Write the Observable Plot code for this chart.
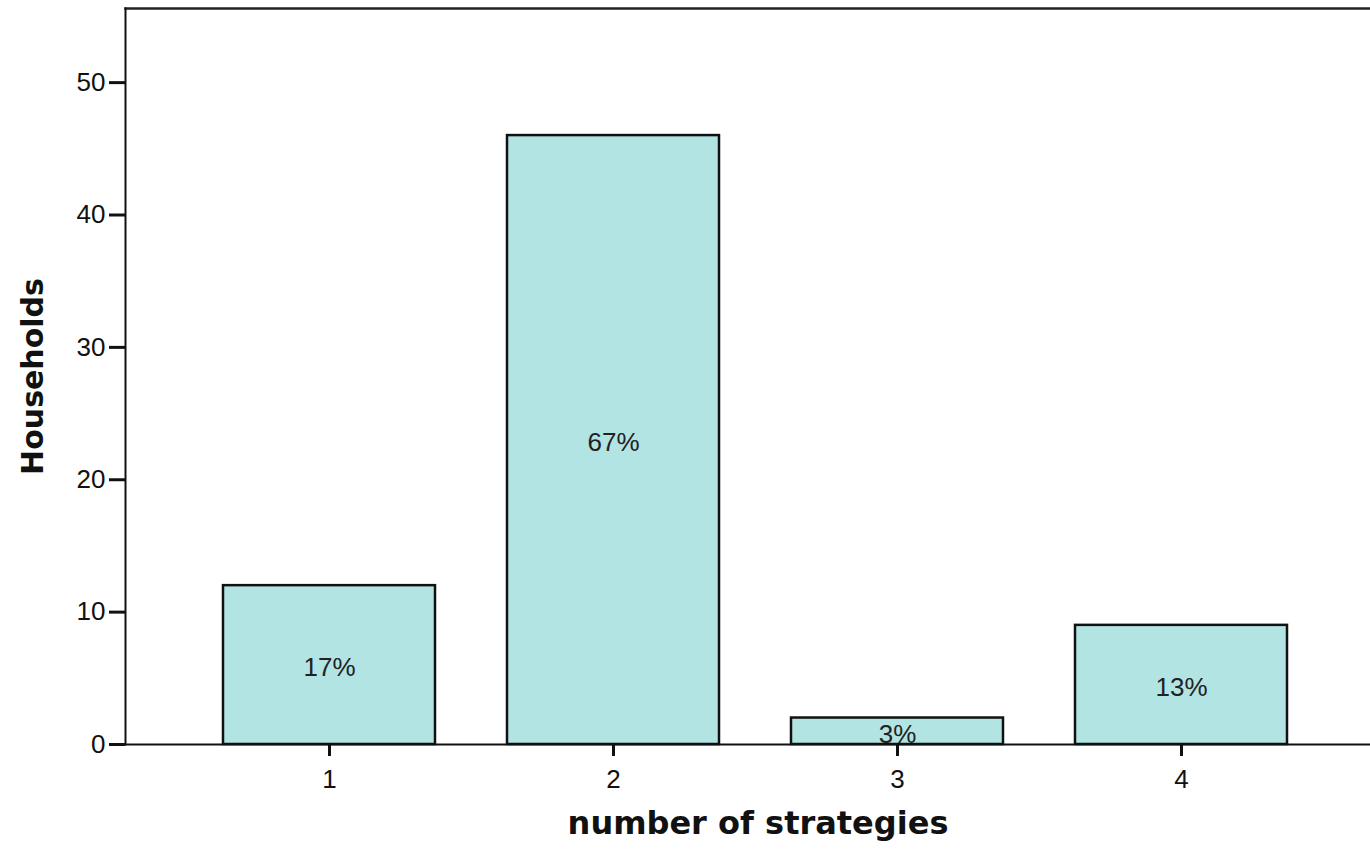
<!DOCTYPE html>
<html>
<head>
<meta charset="utf-8">
<script src="https://cdn.jsdelivr.net/npm/d3@7"></script>
<script src="https://cdn.jsdelivr.net/npm/@observablehq/plot@0.6"></script>
<style>
  html, body { margin: 0; padding: 0; background: #fff; overflow: hidden; }
  #chart { width: 1370px; height: 856px; overflow: hidden; }
  #chart svg { max-width: none !important; width: 1390px !important; height: 856px !important; }
</style>
</head>
<body>
<div id="chart"></div>
<script>
const categories = ["1", "2", "3", "4"];
const households = [12, 46, 2, 9];
const percentLabels = ["17%", "67%", "3%", "13%"];
const yTicks = [0, 10, 20, 30, 40, 50];
const xTitle = "number of strategies";
const yTitle = "Households";

const data = categories.map((c, i) => ({category: c, households: households[i], label: percentLabels[i]}));

const chart = Plot.plot({
  width: 1390,
  height: 856,
  marginLeft: 125,
  marginRight: 0,
  marginTop: 8,
  marginBottom: 112,
  style: {fontFamily: "'Liberation Sans', Arial, sans-serif", fontSize: "26px", color: "#111", background: "#fff", maxWidth: "none"},
  x: {domain: categories, paddingInner: 0.254, paddingOuter: 0.349, align: 0.489, label: null},
  y: {domain: [0, 55.6], label: null},
  marks: [
    Plot.barY(data, {x: "category", y: "households", fill: "#b3e4e4", stroke: "#111", strokeWidth: 2.5}),
    Plot.text(data, {x: "category", y: d => d.households / 2, text: "label", fontSize: 26, fill: "#222", dy: 3}),
    Plot.ruleY([0], {stroke: "#111", strokeWidth: 2}),
    Plot.frame({anchor: "top", stroke: "#222", strokeWidth: 2.5}),
    Plot.frame({anchor: "left", stroke: "#111", strokeWidth: 2}),
    Plot.axisY({ticks: yTicks, tickSize: 16, tickPadding: 4, strokeWidth: 3, label: null, fill: "#111"}),
    Plot.axisX({tickSize: 12, tickPadding: 13, strokeWidth: 3, label: null, fill: "#111"}),
    Plot.text([xTitle], {frameAnchor: "bottom", dy: 89, fontFamily: "'DejaVu Sans', sans-serif", fontWeight: "bold", fontSize: 32, fill: "#111"}),
    Plot.text([yTitle], {frameAnchor: "left", textAnchor: "middle", dx: -92, rotate: -90, fontFamily: "'DejaVu Sans', sans-serif", fontWeight: "bold", fontSize: 30, fill: "#111"})
  ]
});
document.getElementById("chart").append(chart);
</script>
</body>
</html>
